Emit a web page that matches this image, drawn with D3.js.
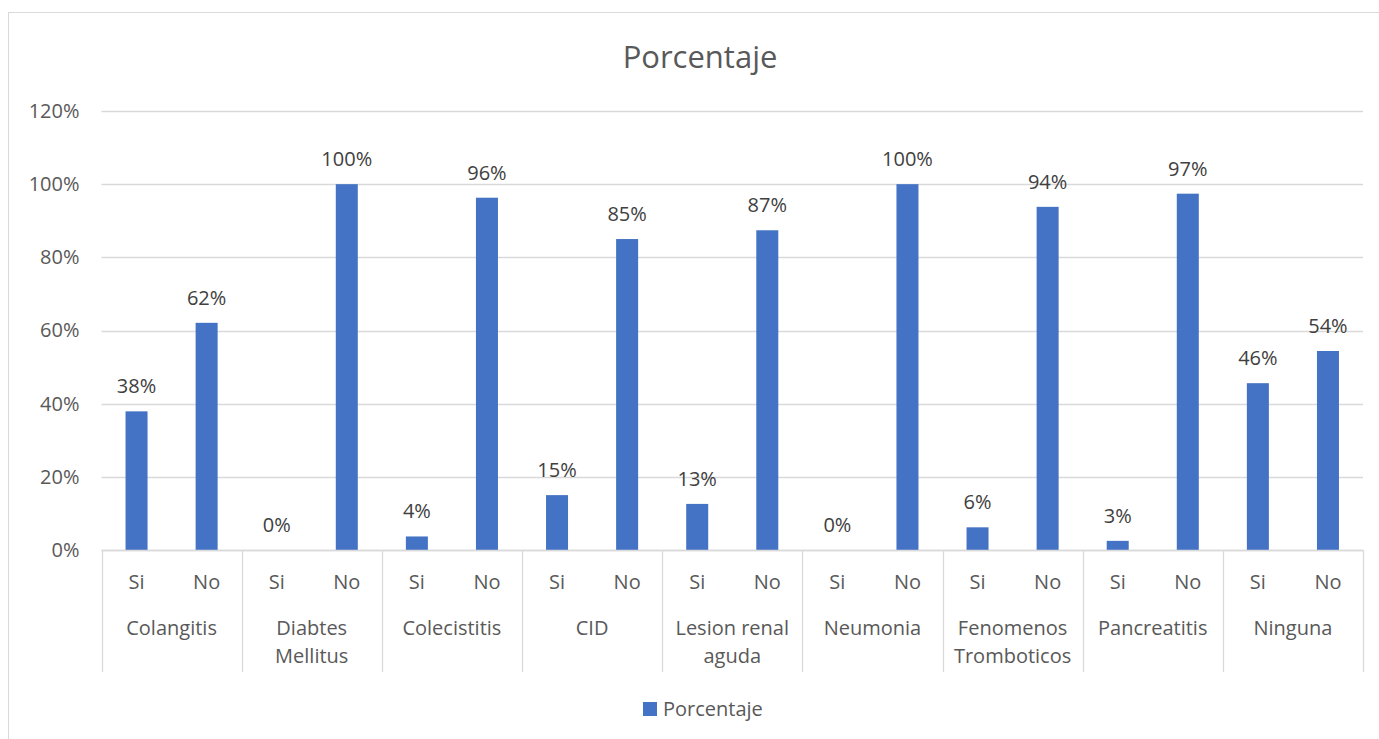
<!DOCTYPE html>
<html>
<head>
<meta charset="utf-8">
<script src="https://cdn.jsdelivr.net/npm/d3@7"></script>
<style>
  html, body { margin: 0; padding: 0; background: #fff; }
  svg { display: block; }
  text { font-family: "Open Sans", "Noto Sans", sans-serif; }
</style>
</head>
<body>
<svg id="chart" width="1379" height="739"></svg>
<script>
const title = "Porcentaje";
const categories = ["Colangitis", "Diabtes Mellitus", "Colecistitis", "CID", "Lesion renal aguda", "Neumonia", "Fenomenos Tromboticos", "Pancreatitis", "Ninguna"];
const subCategories = ["Si", "No"];
const siValues = [37.9, 0, 3.7, 15.0, 12.6, 0, 6.2, 2.5, 45.6];
const noValues = [62.1, 100, 96.3, 85.0, 87.4, 100, 93.8, 97.4, 54.4];
const yTicks = [0, 20, 40, 60, 80, 100, 120];

const svg = d3.select("#chart");
const W = 1379, H = 739;
const m = { left: 101.5, right: 1363, top: 111, bottom: 550 };
const textColor = "#595959";
const gridColor = "#d9d9d9";
const barColor = "#4472C4";
const fs = "20px";

svg.append("rect").attr("x", 8.5).attr("y", 12.5).attr("width", W + 10).attr("height", H + 10)
  .attr("fill", "#fff").attr("stroke", "#d9d9d9").attr("stroke-width", 1);

const y = d3.scaleLinear().domain([0, 120]).range([m.bottom, m.top]);
const x0 = d3.scaleBand().domain(categories).range([m.left, m.right]).paddingInner(0).paddingOuter(0);
const x1 = d3.scaleBand().domain(subCategories).range([0, x0.bandwidth()]);
const barW = x1.bandwidth() * 0.314;

svg.append("g").selectAll("line").data(yTicks).join("line")
  .attr("x1", m.left).attr("x2", m.right)
  .attr("y1", d => Math.round(y(d)) + 0.5).attr("y2", d => Math.round(y(d)) + 0.5)
  .attr("stroke", gridColor).attr("stroke-width", 1.3);

const yAxis = d3.axisLeft(y).tickValues(yTicks).tickFormat(d => d + "%").tickSize(0).tickPadding(22);
const yg = svg.append("g").attr("transform", `translate(${m.left},0)`).call(yAxis);
yg.select(".domain").remove();
yg.selectAll("text").attr("fill", textColor).style("font-size", fs).attr("font-family", null);

const rows = [];
categories.forEach((c, i) => {
  rows.push({ cat: c, sub: "Si", v: siValues[i] });
  rows.push({ cat: c, sub: "No", v: noValues[i] });
});
svg.append("g").selectAll("rect").data(rows).join("rect")
  .attr("x", d => x0(d.cat) + x1(d.sub) + (x1.bandwidth() - barW) / 2)
  .attr("width", barW)
  .attr("y", d => y(d.v))
  .attr("height", d => y(0) - y(d.v))
  .attr("fill", barColor);

svg.append("g").selectAll("text").data(rows).join("text")
  .attr("x", d => x0(d.cat) + x1(d.sub) + x1.bandwidth() / 2)
  .attr("y", d => y(d.v) - 18)
  .attr("text-anchor", "middle")
  .attr("fill", "#404040")
  .style("font-size", fs)
  .text(d => Math.round(d.v) + "%");

const axisG = svg.append("g");
axisG.append("line").attr("x1", m.left).attr("x2", m.right)
  .attr("y1", m.bottom + 0.5).attr("y2", m.bottom + 0.5)
  .attr("stroke", gridColor).attr("stroke-width", 1.3);
const seps = categories.map(c => x0(c)).concat([m.right]);
axisG.selectAll("line.sep").data(seps).join("line").attr("class", "sep")
  .attr("x1", d => Math.round(d) + 0.5).attr("x2", d => Math.round(d) + 0.5)
  .attr("y1", m.bottom).attr("y2", 672)
  .attr("stroke", gridColor).attr("stroke-width", 1.3);

axisG.selectAll("text.sub").data(rows).join("text").attr("class", "sub")
  .attr("x", d => x0(d.cat) + x1(d.sub) + x1.bandwidth() / 2)
  .attr("y", 589)
  .attr("text-anchor", "middle")
  .attr("fill", textColor)
  .style("font-size", fs)
  .text(d => d.sub);

const maxW = 130;
const catText = axisG.selectAll("text.cat").data(categories).join("text").attr("class", "cat")
  .attr("x", d => x0(d) + x0.bandwidth() / 2)
  .attr("y", 635)
  .attr("text-anchor", "middle")
  .attr("fill", textColor)
  .style("font-size", fs);
catText.each(function(d) {
  const t = d3.select(this);
  const words = d.split(" ");
  const lines = [];
  let cur = [];
  const probe = t.append("tspan");
  words.forEach(w => {
    const test = cur.concat([w]).join(" ");
    probe.text(test);
    if (probe.node().getComputedTextLength() > maxW && cur.length) {
      lines.push(cur.join(" "));
      cur = [w];
    } else cur.push(w);
  });
  lines.push(cur.join(" "));
  probe.remove();
  lines.forEach((l, i) => {
    t.append("tspan").attr("x", x0(d) + x0.bandwidth() / 2).attr("dy", i === 0 ? 0 : 28).text(l);
  });
});

svg.append("text").attr("x", 700).attr("y", 68).attr("text-anchor", "middle")
  .attr("fill", textColor).style("font-size", "31px").text(title);

const lg = svg.append("g");
lg.append("rect").attr("x", 643).attr("y", 702).attr("width", 14).attr("height", 14).attr("fill", barColor);
lg.append("text").attr("x", 663).attr("y", 716).attr("fill", textColor).style("font-size", fs).text(title);
</script>
</body>
</html>
